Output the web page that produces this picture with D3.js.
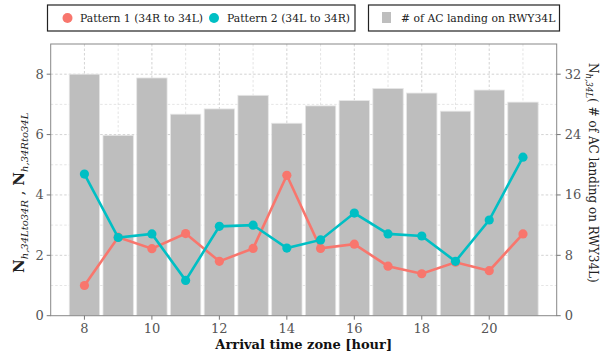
<!DOCTYPE html>
<html><head><meta charset="utf-8">
<script src="https://cdn.jsdelivr.net/npm/d3@7"></script>
<style>body{margin:0;background:#fff}svg{display:block}text{font-family:"DejaVu Serif",serif}</style>
</head><body>
<svg id="c" width="613" height="358"></svg>
<script>
const hours = [8,9,10,11,12,13,14,15,16,17,18,19,20,21];
const pattern1 = [1.0,2.6,2.22,2.72,1.80,2.23,4.65,2.23,2.37,1.64,1.39,1.77,1.49,2.71];
const pattern2 = [4.69,2.59,2.71,1.17,2.96,3.0,2.24,2.51,3.40,2.71,2.64,1.80,3.17,5.25];
const landings = [32.0,23.9,31.5,26.7,27.4,29.2,25.5,27.8,28.5,30.1,29.5,27.1,29.9,28.3];
const xTicks = [8,10,12,14,16,18,20];
const yTicksLeft = [0,2,4,6,8];
const yTicksRight = [0,8,16,24,32];
const seriesNames = ["Pattern 1 (34R to 34L)","Pattern 2 (34L to 34R)"];
const barName = "# of AC landing on RWY34L";

const svg = d3.select("#c");
const L=50.7, R=556.7, T=44, B=315.7;
const x = d3.scaleLinear().domain([7,22]).range([L,R]);
const y = d3.scaleLinear().domain([0,9]).range([B,T]);
const y2 = d3.scaleLinear().domain([0,36]).range([B,T]);
const red="#F8766D", teal="#00BFC4", grey="#BEBEBE", tickCol="#555";

// grid
const g = svg.append("g");
d3.range(8,22).forEach(v=>{
  g.append("line").attr("x1",x(v)).attr("x2",x(v)).attr("y1",T).attr("y2",B)
   .attr("stroke", v%2===0?"#c8c8c8":"#dedede").attr("stroke-width",0.8).attr("stroke-dasharray","2.5,2");
});
d3.range(1,9).forEach(v=>{
  g.append("line").attr("x1",L).attr("x2",R).attr("y1",y(v)).attr("y2",y(v))
   .attr("stroke", v%2===0?"#c8c8c8":"#dedede").attr("stroke-width",0.8).attr("stroke-dasharray","2.5,2");
});

// bars
const bw = 0.9;
svg.append("g").selectAll("rect").data(hours).join("rect")
  .attr("x",(d)=>x(d-bw/2)).attr("width",x(bw)-x(0))
  .attr("y",(d,i)=>y2(landings[i])).attr("height",(d,i)=>B-y2(landings[i]))
  .attr("fill",grey).attr("stroke","#e6e6e6").attr("stroke-width",0.8);

// lines
[[pattern1,red],[pattern2,teal]].forEach(([vals,col])=>{
  const line = d3.line().x((d,i)=>x(hours[i])).y(d=>y(d));
  svg.append("path").datum(vals).attr("d",line).attr("fill","none").attr("stroke",col).attr("stroke-width",2.6);
  svg.append("g").selectAll("circle").data(vals).join("circle")
    .attr("cx",(d,i)=>x(hours[i])).attr("cy",d=>y(d)).attr("r",4.6).attr("fill",col);
});

// frame
svg.append("rect").attr("x",L).attr("y",T).attr("width",R-L).attr("height",B-T)
  .attr("fill","none").attr("stroke","#888").attr("stroke-width",1);

// axes
const fs=13;
const ax = svg.append("g");
xTicks.forEach(v=>{
  ax.append("line").attr("x1",x(v)).attr("x2",x(v)).attr("y1",B).attr("y2",B+4).attr("stroke","#777");
  ax.append("text").attr("x",x(v)).attr("y",B+17).attr("text-anchor","middle").attr("font-size",fs).attr("fill",tickCol).text(v);
});
yTicksLeft.forEach(v=>{
  ax.append("line").attr("x1",L-4).attr("x2",L).attr("y1",y(v)).attr("y2",y(v)).attr("stroke","#777");
  ax.append("text").attr("x",L-7).attr("y",y(v)+4.5).attr("text-anchor","end").attr("font-size",fs).attr("fill",tickCol).text(v);
});
yTicksRight.forEach(v=>{
  ax.append("line").attr("x1",R).attr("x2",R+4).attr("y1",y2(v)).attr("y2",y2(v)).attr("stroke","#777");
  ax.append("text").attr("x",R+8).attr("y",y2(v)+4.5).attr("text-anchor","start").attr("font-size",fs).attr("fill",tickCol).text(v);
});

// axis labels
svg.append("text").attr("x",(L+R)/2).attr("y",349).attr("text-anchor","middle")
  .attr("font-size",13).attr("font-weight","bold").attr("fill","#111").text("Arrival time zone [hour]");

const yl = svg.append("text").attr("transform",`translate(24,${(T+B)/2+13}) rotate(-90)`).attr("text-anchor","middle").attr("font-size",15).attr("fill","#222");
yl.append("tspan").attr("font-weight","bold").text("N");
yl.append("tspan").attr("font-size",10).attr("font-style","italic").attr("dy",4).text("h,34Lto34R");
yl.append("tspan").attr("dy",-4).text(" , ");
yl.append("tspan").attr("font-weight","bold").text("N");
yl.append("tspan").attr("font-size",10).attr("font-style","italic").attr("dy",4).text("h,34Rto34L");

const yr = svg.append("text").attr("transform",`translate(589,${(T+B)/2-7}) rotate(90)`).attr("text-anchor","middle").attr("font-size",12).attr("fill","#222");
yr.append("tspan").text("N");
yr.append("tspan").attr("font-size",8.5).attr("font-style","italic").attr("dy",3.5).text("h,34L");
yr.append("tspan").attr("dy",-3.5).text("( # of AC landing on RWY34L)");

// legends
const lg = svg.append("g");
lg.append("rect").attr("x",47.5).attr("y",5).attr("width",307.5).attr("height",26).attr("fill","#fff").attr("stroke","#222").attr("stroke-width",1.2);
lg.append("circle").attr("cx",67.5).attr("cy",18).attr("r",5).attr("fill",red);
lg.append("text").attr("x",80).attr("y",22).attr("font-size",10.8).attr("fill","#222").text(seriesNames[0]);
lg.append("circle").attr("cx",214).attr("cy",18).attr("r",5).attr("fill",teal);
lg.append("text").attr("x",227).attr("y",22).attr("font-size",10.8).attr("fill","#222").text(seriesNames[1]);
lg.append("rect").attr("x",368.5).attr("y",5).attr("width",191).attr("height",26).attr("fill","#fff").attr("stroke","#222").attr("stroke-width",1.2);
lg.append("rect").attr("x",382).attr("y",12).attr("width",9).attr("height",11).attr("fill",grey);
lg.append("text").attr("x",401).attr("y",22).attr("font-size",10.8).attr("fill","#222").text(barName);
</script>
</body></html>
